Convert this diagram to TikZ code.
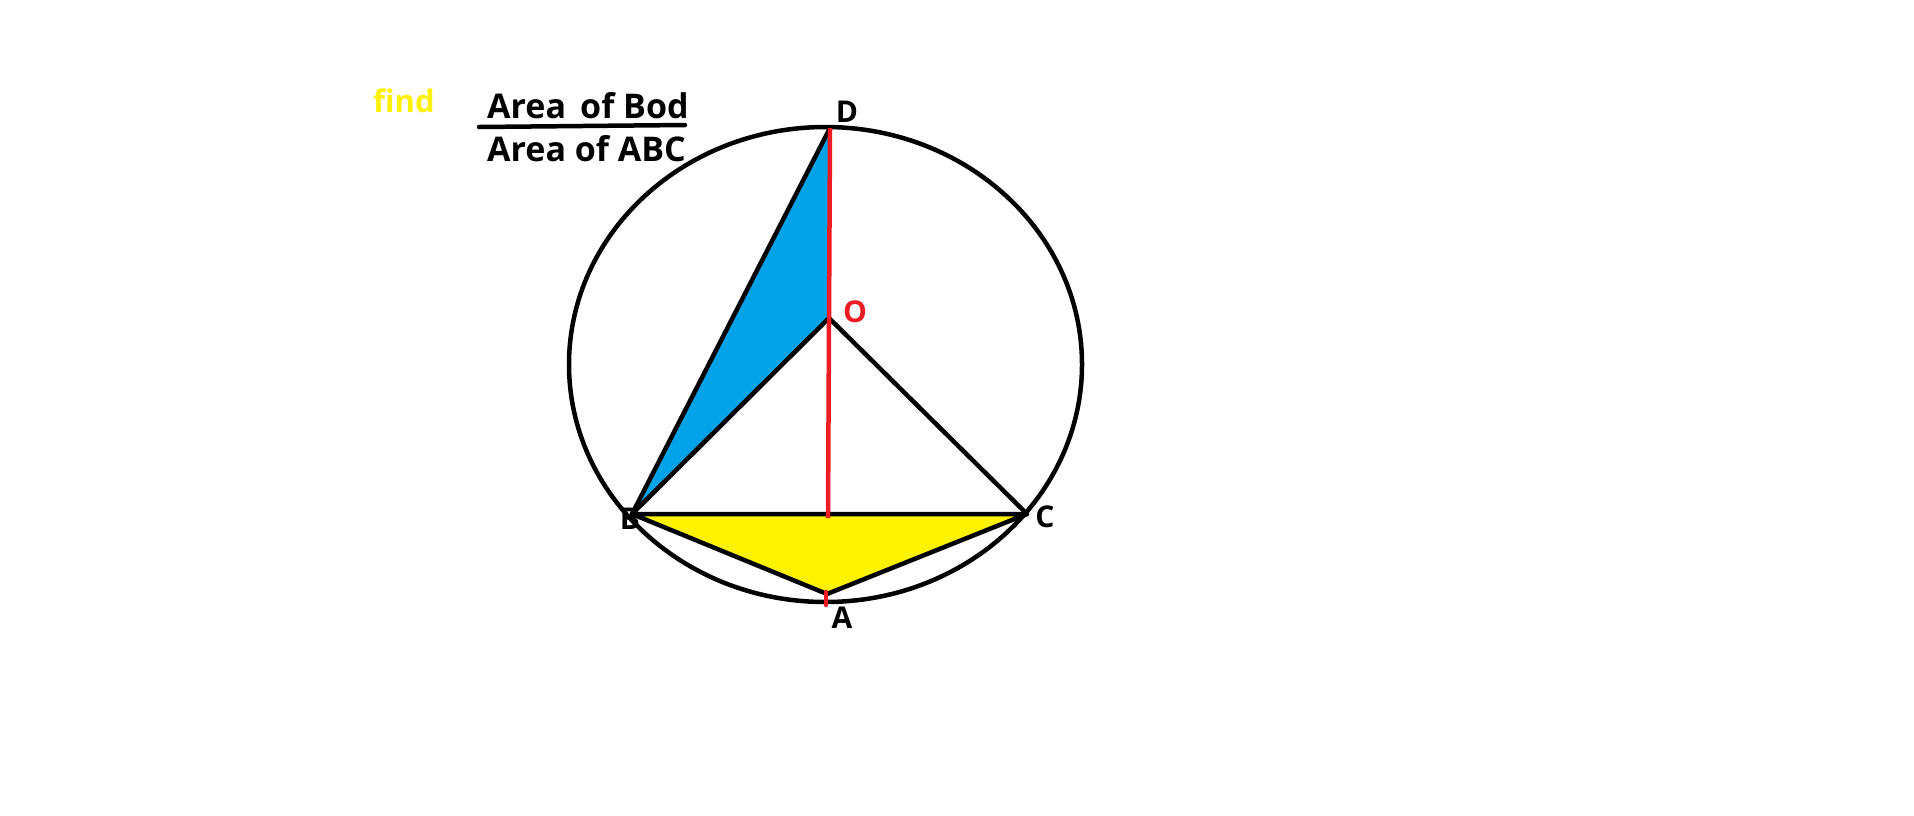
\documentclass[tikz,border=0pt]{standalone}
\usepackage{fontspec}
\setmainfont{Open Sans}
\definecolor{pblue}{RGB}{0,162,232}
\definecolor{pyellow}{RGB}{255,242,0}
\definecolor{pred}{RGB}{237,28,36}
\begin{document}
\begin{tikzpicture}[x=1pt,y=-1pt,
  blk/.style={line width=4.5pt,black,line cap=round,line join=round},
  rl/.style={line width=4.5pt,pred},
  lbl/.style={font=\fontsize{30}{35}\selectfont\bfseries,inner sep=0pt},
  txt/.style={font=\fontsize{34}{40}\selectfont\bfseries,inner sep=0pt,anchor=base west}]
\useasboundingbox[fill=white] (0,0) rectangle (1914,815);
% points
\coordinate (B) at (632,514);
\coordinate (C) at (1027,514);
\coordinate (A) at (827,594);
\coordinate (O) at (829,318);
\coordinate (D) at (830,128);
\coordinate (M) at (828,518);
\coordinate (A1) at (826,592);
\coordinate (A2) at (826,605);
% fills
\fill[pblue] (B) -- (O) -- (D) -- cycle;
\fill[pyellow] (B) -- (C) -- (A) -- cycle;
% circle
\draw[line width=4.5pt] (825.5,364.5) ellipse [x radius=256.5, y radius=237.5];
% labels under lines
\node[lbl] (lB) at (630,519) {B};
% lines
\draw[blk] (B) -- (D);
\draw[blk] (B) -- (O) -- (C);
\draw[blk] (B) -- (C) -- (A) -- cycle;
\draw[rl] (D) -- (M);
\draw[rl,line cap=round] (A1) -- (A2);
% labels
\node[lbl] (lD) at (847,112) {D};
\node[lbl,text=pred] (lO) at (855,312) {O};
\node[lbl] (lC) at (1045,517) {C};
\node[lbl] (lA) at (842,618) {A};
% texts
\node[txt,text=pyellow,font=\fontsize{31}{36}\selectfont\bfseries] (find) at (373,112) {find};
\node[txt] (t1) at (487,118) {Area};
\node[txt] (t2) at (580,118) {of Bod};
\node[txt] (t3) at (487,161) {Area of ABC};
\coordinate (u1) at (479,127);
\coordinate (u2) at (685,125);
\draw[line width=4.5pt,line cap=round] (u1) -- (u2);
\end{tikzpicture}
\end{document}
